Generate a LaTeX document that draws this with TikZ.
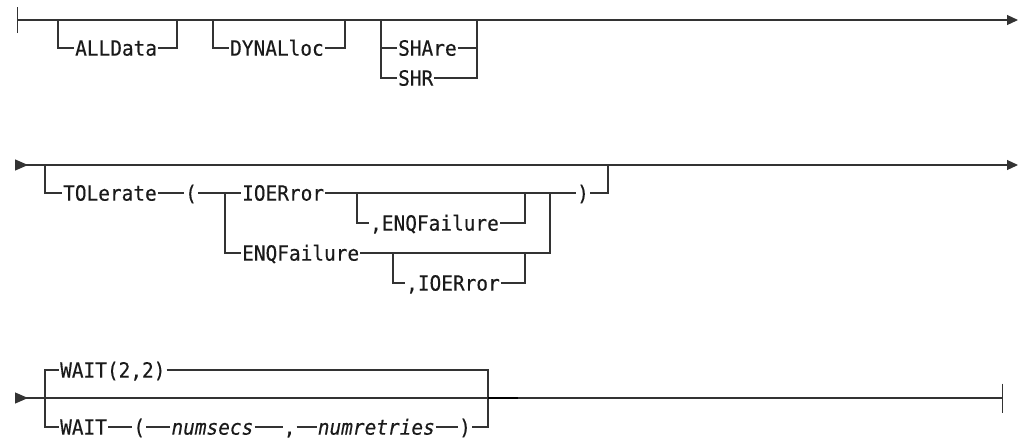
\documentclass[tikz,border=0pt]{standalone}
\usepackage{fontspec}
\usepackage{tikz}
\usetikzlibrary{arrows.meta, positioning}
\newfontfamily\trilhofonte[ItalicFont={* Oblique}, FakeStretch=0.925, FakeBold=0.3]{DejaVu Sans Mono}
\definecolor{trilhocor}{HTML}{333333}
\definecolor{textocor}{HTML}{1A1A1A}

\begin{document}
\begin{tikzpicture}[x=1pt, y=-1pt,
    palavra/.style={font=\trilhofonte\fontsize{21}{24}\selectfont, text=textocor,
                    inner xsep=1pt, inner ysep=0pt, text height=15.3pt, text depth=0pt},
    variavel/.style={palavra, font=\trilhofonte\itshape\fontsize{21}{24}\selectfont},
    trilho/.style={draw=trilhocor, line width=1.2pt},
    seta/.style={trilho, {Triangle[reversed, length=13pt, width=11pt]}-{Triangle[length=11pt, width=10pt]}}
]
    \useasboundingbox (0,0) rectangle (1021,440);

    % linha 1
    \coordinate (l1ini) at (17,20);
    \coordinate (l1fim) at (1018,20);
    \draw[trilho, {Bar[width=26pt]}-{Triangle[length=11pt, width=10pt]}] (l1ini) -- (l1fim);

    \node[palavra, anchor=west] (alldata) at (74,48) {ALLData};
    \coordinate (a1) at (58,20);
    \coordinate (a2) at (177,20);
    \draw[trilho] (a1) |- (alldata.west);
    \draw[trilho] (alldata.east) -| (a2);

    \node[palavra, anchor=west] (dynalloc) at (229,48) {DYNALloc};
    \coordinate (d1) at (213,20);
    \coordinate (d2) at (345,20);
    \draw[trilho] (d1) |- (dynalloc.west);
    \draw[trilho] (dynalloc.east) -| (d2);

    \node[palavra, anchor=west] (share) at (397,48) {SHAre};
    \node[palavra, anchor=west] (shr) at (397,78) {SHR};
    \coordinate (s1) at (381,20);
    \coordinate (s2) at (477,20);
    \draw[trilho] (s1) |- (share.west);
    \draw[trilho] (s1) |- (shr.west);
    \draw[trilho] (share.east) -| (s2);
    \draw[trilho] (shr.east) -| (s2);

    % linha 2
    \coordinate (l2ini) at (15,165);
    \coordinate (l2fim) at (1018,165);
    \draw[seta] (l2ini) -- (l2fim);

    \node[palavra, anchor=west] (tolerate) at (62,193) {TOLerate};
    \node[palavra, right=26pt of tolerate] (abre) {(};
    \coordinate (t1) at (45,165);
    \coordinate (t2) at (225,193);
    \draw[trilho] (t1) |- (tolerate.west);
    \draw[trilho] (tolerate.east) -- (abre.west);
    \draw[trilho] (abre.east) -- (t2);

    \node[palavra, anchor=west] (ioerror) at (241,193) {IOERror};
    \node[palavra, anchor=west] (enqfailure) at (241,253) {ENQFailure};
    \coordinate (t3) at (550,193);
    \draw[trilho] (t2) -- (ioerror.west);
    \draw[trilho] (t2) |- (enqfailure.west);
    \draw[trilho] (ioerror.east) -- (t3);
    \draw[trilho] (enqfailure.east) -| (t3);

    \node[palavra, anchor=west] (venq) at (369,223) {,ENQFailure};
    \coordinate (t4) at (357,193);
    \coordinate (t5) at (525,193);
    \draw[trilho] (t4) |- (venq.west);
    \draw[trilho] (venq.east) -| (t5);

    \node[palavra, anchor=west] (vio) at (405,283) {,IOERror};
    \coordinate (t6) at (393,253);
    \coordinate (t7) at (525,253);
    \draw[trilho] (t6) |- (vio.west);
    \draw[trilho] (vio.east) -| (t7);

    \node[palavra, anchor=west] (fecha) at (576,193) {)};
    \coordinate (t8) at (608,165);
    \draw[trilho] (t3) -- (fecha.west);
    \draw[trilho] (fecha.east) -| (t8);

    % linha 3
    \coordinate (l3ini) at (15,398);
    \coordinate (l3fim) at (1003,398);
    \draw[trilho, {Triangle[reversed, length=13pt, width=11pt]}-{Bar[width=29pt]}] (l3ini) -- (l3fim);

    \node[palavra, anchor=west] (wait22) at (59,370) {WAIT(2,2)};
    \node[palavra, anchor=west] (wait) at (59,427) {WAIT};
    \node[palavra, right=24pt of wait] (abre2) {(};
    \node[variavel, right=24pt of abre2] (numsecs) {numsecs};
    \node[palavra, right=28pt of numsecs] (virgula) {,};
    \node[variavel, right=20pt of virgula] (numretries) {numretries};
    \node[palavra, right=22pt of numretries] (fecha2) {)};
    \coordinate (w1) at (45,398);
    \coordinate (w2) at (488,398);
    \coordinate (w3) at (518,398);
    \draw[trilho] (w1) |- (wait22.west);
    \draw[trilho] (w1) |- (wait.west);
    \draw[trilho] (wait22.east) -| (w2);
    \draw[trilho] (wait.east) -- (abre2.west);
    \draw[trilho] (abre2.east) -- (numsecs.west);
    \draw[trilho] (numsecs.east) -- (virgula.west);
    \draw[trilho] (virgula.east) -- (numretries.west);
    \draw[trilho] (numretries.east) -- (fecha2.west);
    \draw[trilho] (fecha2.east) -| (w2);
    \draw[trilho, line width=1.8pt, draw=black] (w2) -- (w3);
\end{tikzpicture}
\end{document}
